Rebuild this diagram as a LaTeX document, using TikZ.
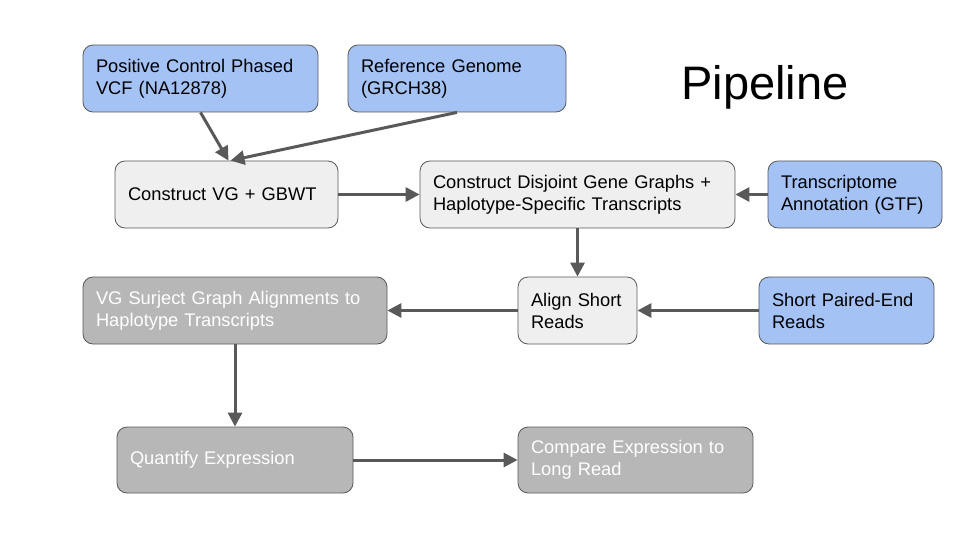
\documentclass[tikz,border=0pt]{standalone}
\usepackage{fontspec}
\setmainfont{Liberation Sans}
\usepackage{xcolor}
\usetikzlibrary{calc}
\usetikzlibrary{arrows.meta}
\usetikzlibrary{positioning}
\definecolor{input-blue}{HTML}{A4C2F4}
\definecolor{step-light}{HTML}{EFEFEF}
\definecolor{step-dark}{HTML}{B7B7B7}
\definecolor{line-gray}{HTML}{595959}

\begin{document}
\begin{tikzpicture}[x=1pt, y=-1pt,
    box/.style={draw=line-gray, line width=0.8pt, rounded corners=10pt, inner xsep=13pt, inner ysep=0pt,
        align=left, minimum height=67pt, font=\fontsize{18.3}{22}\selectfont},
    bluebox/.style={box, fill=input-blue},
    lightbox/.style={box, fill=step-light},
    darkbox/.style={box, fill=step-dark, text=white},
    flow/.style={draw=line-gray, line width=3pt, -{Triangle[length=14pt,width=14pt]}}]
\useasboundingbox (0,0) rectangle (960,540);
\node[bluebox, text width=209pt] (vcf) at (200.5,78.5) {Positive Control Phased\\VCF (NA12878)};
\node[bluebox, text width=192pt] (ref) at (457,78.5) {Reference Genome\\(GRCH38)};
\node[font=\fontsize{47}{50}\selectfont] (title) at (765,87) {Pipeline};
\node[lightbox, text width=197pt] (vg) at (226.5,194.5) {Construct VG + GBWT};
\node[lightbox, text width=289pt] (disjoint) at (577.5,194.5) {Construct Disjoint Gene Graphs +\\Haplotype-Specific Transcripts};
\node[bluebox, text width=148pt] (gtf) at (855,194.5) {Transcriptome\\Annotation (GTF)};
\node[darkbox, text width=278pt] (surject) at (235,310.5) {VG Surject Graph Alignments to\\Haplotype Transcripts};
\node[lightbox, text width=93pt] (align) at (577.5,310.5) {Align Short\\Reads};
\node[bluebox, text width=149pt] (reads) at (846.5,310.5) {Short Paired-End\\Reads};
\node[darkbox, text width=210pt, minimum height=66pt] (quant) at (235,460) {Quantify Expression};
\node[darkbox, text width=209pt, minimum height=66pt] (compare) at (635.5,460) {Compare Expression to\\Long Read};

\draw[flow] (vcf.south) -- ($(vg.north)+(2,0)$);
\draw[flow] (ref.south) -- ($(vg.north)+(4,0)$);
\draw[flow] (vg) -- (disjoint);
\draw[flow] (gtf) -- (disjoint);
\draw[flow] (disjoint) -- (align);
\draw[flow] (reads) -- (align);
\draw[flow] (align) -- (surject);
\draw[flow] (surject) -- (quant);
\draw[flow] (quant) -- (compare);
\end{tikzpicture}
\end{document}
